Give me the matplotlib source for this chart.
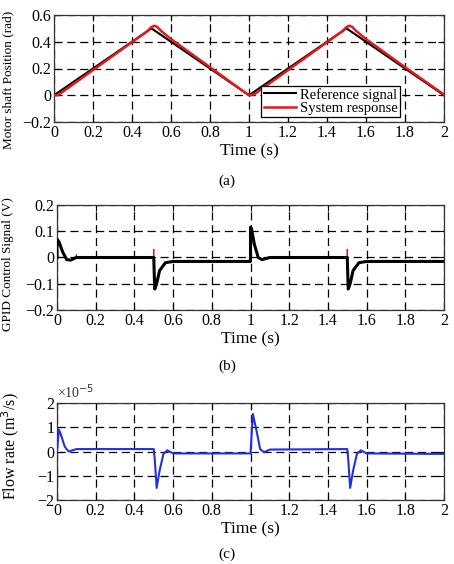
import matplotlib
matplotlib.use("Agg")
import matplotlib.pyplot as plt
import numpy as np

plt.rcParams['font.family'] = ['Liberation Serif', 'DejaVu Serif']
plt.rcParams['axes.unicode_minus'] = True

# ---------------- Data ----------------
# (a) Motor shaft position
t_ref = [0.0, 0.5, 1.0, 1.5, 2.0]
pos_ref = [0.0, 0.5, 0.0, 0.5, 0.0]
t_resp = [0.0, 0.02, 0.48, 0.5, 0.515, 0.53, 0.55, 0.6, 0.8, 0.98, 1.0, 1.01, 1.03,
          1.48, 1.5, 1.515, 1.53, 1.55, 1.6, 1.8, 2.0]
pos_resp = [0.0, 0.0, 0.48, 0.51, 0.52, 0.51, 0.48, 0.42, 0.21, 0.02, 0.003, 0.0, 0.01,
            0.48, 0.51, 0.52, 0.51, 0.48, 0.42, 0.21, 0.005]

# (b) GPID control signal
t_u = [0.0, 0.0, 0.01, 0.03, 0.05, 0.07, 0.1, 0.5, 0.5, 0.505, 0.515, 0.53, 0.56, 0.6,
       1.0, 1.0, 1.005, 1.02, 1.04, 1.06, 1.1, 1.5, 1.5, 1.505, 1.515, 1.53, 1.56, 1.6, 2.0]
u_sig = [0.0, 0.07, 0.06, 0.02, -0.008, -0.01, 0.0, 0.0, 0.0, -0.12, -0.1, -0.05, -0.02, -0.015,
         -0.015, 0.115, 0.11, 0.05, 0.0, -0.008, 0.0, 0.0, 0.0, -0.12, -0.1, -0.05, -0.02, -0.015, -0.015]
t_u_red = [0.0, 0.0, 0.01, 0.03, 0.05, 0.07, 0.1, 0.1, 0.1, 0.5, 0.5, 0.5, 0.505, 0.515, 0.53, 0.56, 0.6,
           1.0, 1.0, 1.005, 1.02, 1.04, 1.06, 1.1, 1.5, 1.5, 1.5, 1.505, 1.515, 1.53, 1.56, 1.6, 2.0]
u_red = [0.0, 0.07, 0.06, 0.02, -0.008, -0.01, 0.0, 0.01, 0.0, 0.0, 0.03, 0.0, -0.12, -0.1, -0.05, -0.02, -0.015,
         -0.015, 0.12, 0.11, 0.05, 0.0, -0.008, 0.0, 0.0, 0.03, 0.0, -0.12, -0.1, -0.05, -0.02, -0.015, -0.015]

# (c) Flow rate (x 1e-5 m^3/s)
t_q = [0.0, 0.01, 0.02, 0.04, 0.06, 0.08, 0.1, 0.5, 0.505, 0.515, 0.53, 0.55, 0.57, 0.6,
       1.0, 1.005, 1.012, 1.03, 1.05, 1.07, 1.1, 1.5, 1.505, 1.515, 1.53, 1.55, 1.57, 1.6, 2.0]
q_flow = [0.0, 0.9, 0.7, 0.2, 0.0, 0.05, 0.1, 0.1, -0.3, -1.5, -0.8, -0.1, 0.05, -0.08,
          -0.08, 0.6, 1.55, 0.9, 0.1, -0.03, 0.08, 0.1, -0.3, -1.5, -0.8, -0.1, 0.05, -0.08, -0.1]

x_ticks = [0, 0.2, 0.4, 0.6, 0.8, 1, 1.2, 1.4, 1.6, 1.8, 2]
x_labels = ['0', '0.2', '0.4', '0.6', '0.8', '1', '1.2', '1.4', '1.6', '1.8', '2']
ya_ticks = [-0.2, 0, 0.2, 0.4, 0.6]
ya_labels = ['\u22120.2', '0', '0.2', '0.4', '0.6']
yb_ticks = [-0.2, -0.1, 0, 0.1, 0.2]
yb_labels = ['\u22120.2', '\u22120.1', '0', '0.1', '0.2']
yc_ticks = [-2, -1, 0, 1, 2]
yc_labels = ['\u22122', '\u22121', '0', '1', '2']

# ---------------- Figure ----------------
fig = plt.figure(figsize=(4.54, 5.64), dpi=100)
W, H = 454, 564

def add_ax(l, t, r, b):
    return fig.add_axes([l / W, 1 - b / H, (r - l) / W, (b - t) / H])

ax_a = add_ax(54, 15, 444, 122)
ax_b = add_ax(57, 205, 444, 310)
ax_c = add_ax(57, 403, 444, 500)

def style(ax, yt, yl, ylim):
    ax.set_xlim(0, 2)
    ax.set_ylim(*ylim)
    ax.set_xticks(x_ticks)
    ax.set_xticklabels(x_labels)
    ax.set_yticks(yt)
    ax.set_yticklabels(yl)
    ax.tick_params(direction='in', length=4, width=0.8, top=True, right=True,
                   labelsize=11.5, pad=2)
    ax.grid(True, color='black', linestyle=(0, (6.5, 3.8)), linewidth=0.9)
    for s in ax.spines.values():
        s.set_linewidth(0.9)
        s.set_color('#333333')
    ax.set_xlabel('Time (s)', fontsize=12.5, labelpad=2)

def place_ylabel(ax, x_px, y_px, l, t, r, b):
    ax.yaxis.set_label_coords((x_px - l) / (r - l), (b - y_px) / (b - t))

# (a)
ax_a.plot(t_ref, pos_ref, color='black', lw=1.5, label='Reference signal', zorder=3)
ax_a.plot(t_resp, pos_resp, color='#e01b1b', lw=1.8, label='System response', zorder=4)
style(ax_a, ya_ticks, ya_labels, (-0.2, 0.6))
ax_a.set_ylabel('Motor shaft Position (rad)', fontsize=9.5, va='center')
place_ylabel(ax_a, 8, 80, 54, 15, 444, 122)
leg = ax_a.legend(loc='lower right', bbox_to_anchor=(0.887, 0.047), fontsize=10.5,
                  frameon=True, fancybox=False, edgecolor='black', framealpha=1,
                  borderpad=0.15, labelspacing=0.0, handlelength=2.2, handletextpad=0.3,
                  borderaxespad=0)
leg.get_frame().set_linewidth(0.9)

# (b)
ax_b.plot(t_u_red, u_red, color='#e01b1b', lw=0.8, zorder=3)
ax_b.plot(t_u, u_sig, color='black', lw=2.2, zorder=4)
style(ax_b, yb_ticks, yb_labels, (-0.2, 0.2))
ax_b.set_ylabel('GPID Control Signal (V)', fontsize=9.5, va='center')
place_ylabel(ax_b, 8, 264, 57, 205, 444, 310)

# (c)
ax_c.plot(t_q, q_flow, color='#2430d8', lw=1.5, zorder=3)
style(ax_c, yc_ticks, yc_labels, (-2, 2))
ax_c.set_ylabel('Flow rate (m$^3$/s)', fontsize=11.5, va='center')
place_ylabel(ax_c, 10, 446, 57, 403, 444, 500)
ax_c.text(0.0, 1.02, '\u00d710$^{-5}$', transform=ax_c.transAxes, fontsize=10,
          ha='left', va='bottom', color='#333333')

# captions
fig.text(227 / W, 1 - 181 / H, '(a)', ha='center', va='center', fontsize=11)
fig.text(227 / W, 1 - 366 / H, '(b)', ha='center', va='center', fontsize=11)
fig.text(227 / W, 1 - 554 / H, '(c)', ha='center', va='center', fontsize=11)

fig.savefig('out.png', dpi=100)
